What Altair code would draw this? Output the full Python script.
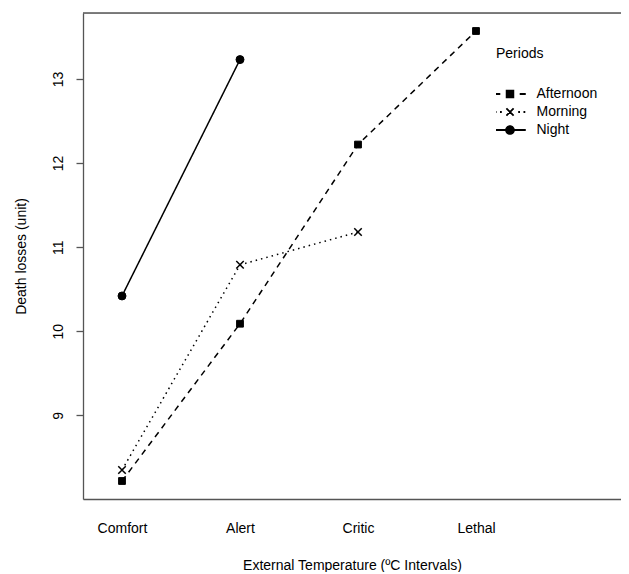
import altair as alt
import pandas as pd

levels = ["Comfort", "Alert", "Critic", "Lethal"]
periods = ["Afternoon", "Morning", "Night"]
afternoon = [8.22, 10.09, 12.22, 13.57]
morning = [8.35, 10.79, 11.18]
night = [10.42, 13.23]
y_ticks = [9, 10, 11, 12, 13]

rows = []
for p, vals in zip(periods, [afternoon, morning, night]):
    for i, v in enumerate(vals):
        rows.append({"Period": p, "Level": levels[i], "Pos": i + 1, "Value": v})
df = pd.DataFrame(rows)

W, H = 538, 486
FONT = "Liberation Sans"
FRAME = "#555555"
xdom = [1 - 39 / 118, 1 - 39 / 118 + W / 118]
ydom = [8.006, 13.784]

label_expr = "[" + ",".join("'" + l + "'" for l in levels) + "][datum.value - 1]"

x = alt.X(
    "Pos:Q",
    scale=alt.Scale(domain=xdom, nice=False, zero=False),
    axis=alt.Axis(
        values=[1, 2, 3, 4], labelExpr=label_expr, ticks=False, tickSize=0, grid=False,
        title="External Temperature (ºC Intervals)", domainColor=FRAME, domainWidth=1.3,
        labelFontSize=14, titleFontSize=14, labelFont=FONT, titleFont=FONT,
        labelColor="black", titleColor="black", titleFontWeight="normal",
        labelPadding=22, titlePadding=23, labelFlush=False,
    ),
)
y = alt.Y(
    "Value:Q",
    scale=alt.Scale(domain=ydom, nice=False, zero=False),
    axis=alt.Axis(
        values=y_ticks, labelAngle=270, labelAlign="center", labelBaseline="bottom",
        tickSize=7, tickColor=FRAME, tickWidth=1.3, grid=False,
        title="Death losses (unit)", domainColor=FRAME, domainWidth=1.3,
        labelFontSize=14, titleFontSize=14, labelFont=FONT, titleFont=FONT,
        labelColor="black", titleColor="black", titleFontWeight="normal",
        labelPadding=11, titlePadding=23, labelFlush=False,
    ),
)

base = alt.Chart(df)

lines = base.mark_line(color="black", strokeWidth=1.5).encode(
    x=x, y=y,
    strokeDash=alt.StrokeDash("Period:N", scale=alt.Scale(domain=periods, range=[[6, 5], [1.5, 4], [1, 0]]), legend=None),
    detail="Period:N",
)

marker_shapes = ["square", "M-1,-1L1,1M1,-1L-1,1", "circle"]
marker_sizes = [46, 56, 64]
point_layers = []
for p, shp, sz in zip(periods, marker_shapes, marker_sizes):
    point_layers.append(
        base.transform_filter(alt.datum.Period == p).mark_point(
            shape=shp, size=sz, filled=False, fill="black", stroke="black",
            strokeWidth=1.5 if p == "Morning" else 1, opacity=1,
        ).encode(x=x, y=y)
    )

# legend glyphs drawn as filled outlines
leg_paths = [
    "M-1.213,-0.07H-0.747V0.07H-1.213Z M0.747,-0.07H1.213V0.07H0.747Z "
    "M-0.327,-0.327H0.327V0.327H-0.327Z",
    "M-1.176,-0.07H-1.037V0.07H-1.176Z M-0.77,-0.07H-0.63V0.07H-0.77Z "
    "M0.63,-0.07H0.77V0.07H0.63Z M1.037,-0.07H1.176V0.07H1.037Z "
    "M-0.23,-0.329L0.329,0.23L0.23,0.329L-0.329,-0.23Z "
    "M0.329,-0.23L-0.23,0.329L-0.329,0.23L0.23,-0.329Z",
    "M-1.213,-0.07H1.213V0.07H-1.213Z M-0.373,0A0.373,0.373 0 1,1 0.373,0A0.373,0.373 0 1,1 -0.373,0Z",
]

legend_layer = base.mark_point(
    filled=True, color="black", size=676, opacity=0
).encode(
    x=x, y=y,
    shape=alt.Shape(
        "Period:N",
        scale=alt.Scale(domain=periods, range=leg_paths),
        legend=alt.Legend(
            title="\u00a0\u00a0\u2009Periods", orient="none", legendX=413, legendY=34, padding=0,
            titleFontSize=14, titleFont=FONT, titleFontWeight="normal", titleColor="black",
            titlePadding=24, labelFontSize=14, labelFont=FONT, labelColor="black",
            labelOffset=12.5, symbolOffset=0, rowPadding=0, clipHeight=18, symbolSize=676,
            symbolFillColor="black", symbolOpacity=1,
        ),
    ),
)

frame_top = alt.Chart(pd.DataFrame({"a": [0]})).mark_rule(color=FRAME, strokeWidth=1.3).encode(
    x=alt.value(0), x2=alt.value(W), y=alt.value(0)
)

chart = alt.layer(frame_top, lines, *point_layers, legend_layer).resolve_scale(
    shape="independent"
).properties(
    width=W, height=H,
    autosize=alt.AutoSizeParams(type="none"),
    padding={"left": 75, "top": 5, "right": 0, "bottom": 73},
).configure_view(stroke=None).configure(background="white")

chart.save("out.html", embed_options={"renderer": "svg", "actions": False})
